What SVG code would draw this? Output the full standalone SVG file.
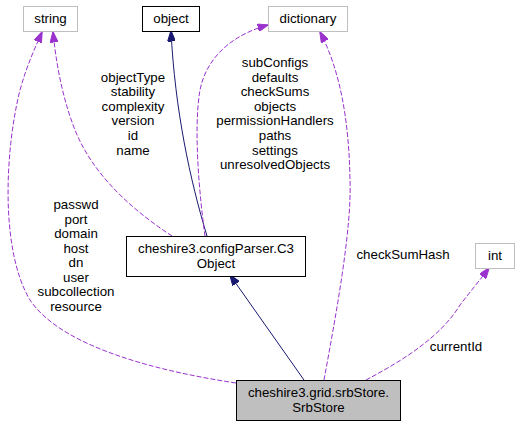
<svg xmlns="http://www.w3.org/2000/svg" width="520" height="427" viewBox="0 0 520 427">
<style>
text{font-family:"Liberation Sans",Arial,sans-serif;font-size:13.3px;fill:#000;text-anchor:middle}
.n rect{fill:#fff;stroke:#000;stroke-width:1}
.g rect{stroke:#bfbfbf}
.use{fill:none;stroke:#9a32cd;stroke-width:1;stroke-dasharray:5,2}
.inh{fill:none;stroke:#191970;stroke-width:1}
</style>
<defs>
<marker id="ap" markerUnits="userSpaceOnUse" viewBox="0 0 11 8" markerWidth="11" markerHeight="8" refX="10.5" refY="4" orient="auto"><path d="M0,0 L11,4 L0,8 z" fill="#9a32cd" stroke="#9a32cd"/></marker>
<marker id="an" markerUnits="userSpaceOnUse" viewBox="0 0 11 8" markerWidth="11" markerHeight="8" refX="10.5" refY="4" orient="auto"><path d="M0,0 L11,4 L0,8 z" fill="#191970" stroke="#191970"/></marker>
</defs>
<g id="edges">
<path class="use" d="M172,236 C140,215 95,180 75,130 C62,97 56,62 53,32" marker-end="url(#ap)"/>
<path class="use" d="M236,383 C150,370 60,345 30,300 C0,250 5,150 20,90 C27,65 35,48 42,32" marker-end="url(#ap)"/>
<path class="inh" d="M207,236 C190,180 175,110 171,31" marker-end="url(#an)"/>
<path class="use" d="M205,236 C200,200 193,130 200,90 C207,55 235,34 268,25" marker-end="url(#ap)"/>
<path class="use" d="M324,380 C335,320 352,230 350,180 C349,120 340,70 320,32" marker-end="url(#ap)"/>
<path class="use" d="M366,380 C400,362 440,338 460,305 C470,292 480,280 489,268" marker-end="url(#ap)"/>
<path class="inh" d="M304,380 L230,275" marker-end="url(#an)"/>
<text x="133" y="81.5">objectType</text>
<text x="133" y="96">stability</text>
<text x="133" y="110.5">complexity</text>
<text x="133" y="125">version</text>
<text x="133" y="140">id</text>
<text x="133" y="154.5">name</text>
<text x="275" y="67">subConfigs</text>
<text x="275" y="81.5">defaults</text>
<text x="275" y="96">checkSums</text>
<text x="275" y="110.5">objects</text>
<text x="275" y="125">permissionHandlers</text>
<text x="275" y="140">paths</text>
<text x="275" y="154.5">settings</text>
<text x="275" y="169">unresolvedObjects</text>
<text x="76" y="209">passwd</text>
<text x="76" y="223.5">port</text>
<text x="76" y="238">domain</text>
<text x="76" y="252.5">host</text>
<text x="76" y="267">dn</text>
<text x="76" y="281.5">user</text>
<text x="76" y="296">subcollection</text>
<text x="76" y="310.5">resource</text>
<text x="403" y="259">checkSumHash</text>
<text x="456" y="351">currentId</text>
</g>
<g id="string" class="n g"><rect x="23.5" y="6.5" width="54" height="25"/><text x="50.5" y="23">string</text></g>
<g id="object" class="n"><rect x="142.5" y="6.5" width="57" height="25"/><text x="171" y="23">object</text></g>
<g id="dictionary" class="n g"><rect x="268.5" y="6.5" width="79" height="25"/><text x="308" y="23">dictionary</text></g>
<g id="int" class="n g"><rect x="475.5" y="243.5" width="39" height="25"/><text x="495" y="260">int</text></g>
<g id="C3Object" class="n"><rect x="126.5" y="236.5" width="179" height="40"/><text x="216" y="253">cheshire3.configParser.C3</text><text x="216" y="267.5">Object</text></g>
<g id="SrbStore" class="n"><rect x="236.5" y="380.5" width="164" height="40" style="fill:#bfbfbf"/><text x="318.5" y="397">cheshire3.grid.srbStore.</text><text x="318.5" y="411.5">SrbStore</text></g>
</svg>
